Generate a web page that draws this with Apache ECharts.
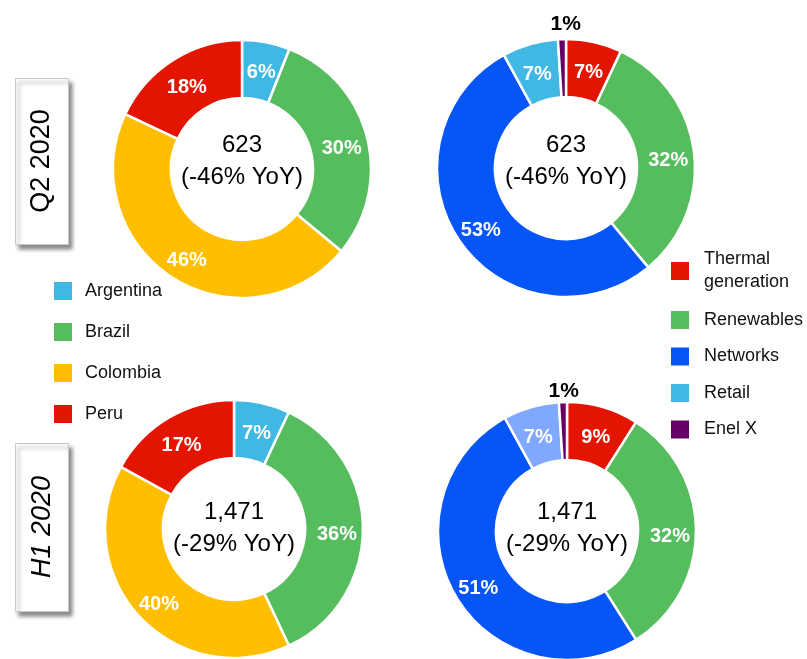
<!DOCTYPE html>
<html>
<head>
<meta charset="utf-8">
<script src="https://cdn.jsdelivr.net/npm/echarts@6/dist/echarts.min.js"></script>
<style>
  html, body { margin: 0; padding: 0; background: #fff; }
  #chart { width: 807px; height: 659px; }
</style>
</head>
<body>
<div id="chart"></div>
<script>
// data
var countries = ['Argentina', 'Brazil', 'Colombia', 'Peru'];
var q2Countries = [6, 30, 46, 18];
var h1Countries = [7, 36, 40, 17];
var businesses = ['Thermal\ngeneration', 'Renewables', 'Networks', 'Retail', 'Enel X'];
var q2Business = [7, 32, 53, 7, 1];
var h1Business = [9, 32, 51, 7, 1];
var periods = ['Q2 2020', 'H1 2020'];
var totals = ['623', '1,471'];
var yoy = ['-46%', '-29%'];

var FONT = '"Liberation Sans", Arial, sans-serif';
var countryColors = ['#41b8e4', '#56bd5e', '#ffbf00', '#e31500'];
var businessColors = ['#e31500', '#56bd5e', '#0655f7', '#41b8e4', '#660066'];
var h1RetailColor = '#80a8ff';

var myChart = echarts.init(document.getElementById('chart'));

function pieData(names, values, colors) {
  return names.map(function (n, i) {
    return { name: n, value: values[i], itemStyle: { color: colors[i] } };
  });
}

function donut(center, data, enelDy) {
  return {
    type: 'pie',
    center: center,
    radius: [71, 129],
    startAngle: 90,
    clockwise: true,
    avoidLabelOverlap: false,
    silent: true,
    itemStyle: { borderColor: '#fff', borderWidth: 2.5 },
    label: {
      show: true,
      position: 'inside',
      formatter: '{c}%',
      color: '#fff',
      fontSize: 20,
      fontWeight: 'bold',
      fontFamily: FONT
    },
    labelLine: { show: false },
    labelLayout: function (params) {
      // Enel X label sits above the ring
      if (enelDy && params.dataIndex === 4) {
        return { dx: enelDy[0], dy: enelDy[1] };
      }
      return { dy: 5 };
    },
    data: data
  };
}

var h1BizColors = businessColors.slice();
h1BizColors[3] = h1RetailColor;

var q2Biz = pieData(businesses, q2Business, businessColors);
var h1Biz = pieData(businesses, h1Business, h1BizColors);
q2Biz[4].label = { color: '#000', fontSize: 21 };
h1Biz[4].label = { color: '#000', fontSize: 21 };

var legendText = { fontSize: 18, fontFamily: FONT, color: '#111', padding: [0, 0, 0, 7] };

myChart.setOption({
  animation: false,
  legend: [
    {
      data: countries,
      orient: 'vertical',
      left: 47, top: 275,
      itemWidth: 20, itemHeight: 20, itemGap: 19,
      icon: 'rect',
      selectedMode: false,
      textStyle: legendText
    },
    {
      data: businesses.slice(0, 1),
      orient: 'vertical',
      left: 664, top: 243,
      itemWidth: 20, itemHeight: 20,
      icon: 'rect',
      selectedMode: false,
      textStyle: Object.assign({}, legendText, { lineHeight: 23, padding: [0, 0, 0, 9] })
    },
    {
      data: businesses.slice(1),
      orient: 'vertical',
      left: 664, top: 304,
      itemWidth: 20, itemHeight: 20, itemGap: 14.5,
      icon: 'rect',
      selectedMode: false,
      textStyle: Object.assign({}, legendText, { padding: [0, 0, 0, 9] })
    }
  ],
  graphic: [
    // period boxes
    {
      type: 'rect', left: 15, top: 78,
      shape: { width: 53, height: 166 },
      style: { fill: '#fff', stroke: '#c8c8c8', lineWidth: 1, shadowBlur: 4, shadowOffsetX: 3, shadowOffsetY: 4, shadowColor: 'rgba(0,0,0,0.45)' }
    },
    {
      type: 'text', x: 42, y: 161, rotation: Math.PI / 2,
      style: { text: periods[0], fontSize: 27, fontFamily: FONT, fill: '#000', align: 'center', verticalAlign: 'middle' }
    },
    {
      type: 'rect', left: 15, top: 443,
      shape: { width: 53, height: 168 },
      style: { fill: '#fff', stroke: '#c8c8c8', lineWidth: 1, shadowBlur: 4, shadowOffsetX: 3, shadowOffsetY: 4, shadowColor: 'rgba(0,0,0,0.45)' }
    },
    {
      type: 'text', x: 42, y: 527, rotation: Math.PI / 2,
      style: { text: periods[1], fontSize: 27, fontStyle: 'italic', fontFamily: FONT, fill: '#000', align: 'center', verticalAlign: 'middle' }
    },
    // centre totals
    {
      type: 'text', x: 242, y: 161,
      style: { text: totals[0] + '\n(' + yoy[0] + ' YoY)', fontSize: 24, lineHeight: 32, fontFamily: FONT, fill: '#000', align: 'center', verticalAlign: 'middle' }
    },
    {
      type: 'text', x: 566, y: 161,
      style: { text: totals[0] + '\n(' + yoy[0] + ' YoY)', fontSize: 24, lineHeight: 32, fontFamily: FONT, fill: '#000', align: 'center', verticalAlign: 'middle' }
    },
    {
      type: 'text', x: 234, y: 528,
      style: { text: totals[1] + '\n(' + yoy[1] + ' YoY)', fontSize: 24, lineHeight: 32, fontFamily: FONT, fill: '#000', align: 'center', verticalAlign: 'middle' }
    },
    {
      type: 'text', x: 567, y: 528,
      style: { text: totals[1] + '\n(' + yoy[1] + ' YoY)', fontSize: 24, lineHeight: 32, fontFamily: FONT, fill: '#000', align: 'center', verticalAlign: 'middle' }
    }
  ],
  series: [
    donut([242, 169], pieData(countries, q2Countries, countryColors)),
    donut([566, 168], q2Biz, [3, -41]),
    donut([234, 529], pieData(countries, h1Countries, countryColors)),
    donut([567, 531], h1Biz, [0, -37])
  ]
});

window.onresize = myChart.resize;
</script>
</body>
</html>
